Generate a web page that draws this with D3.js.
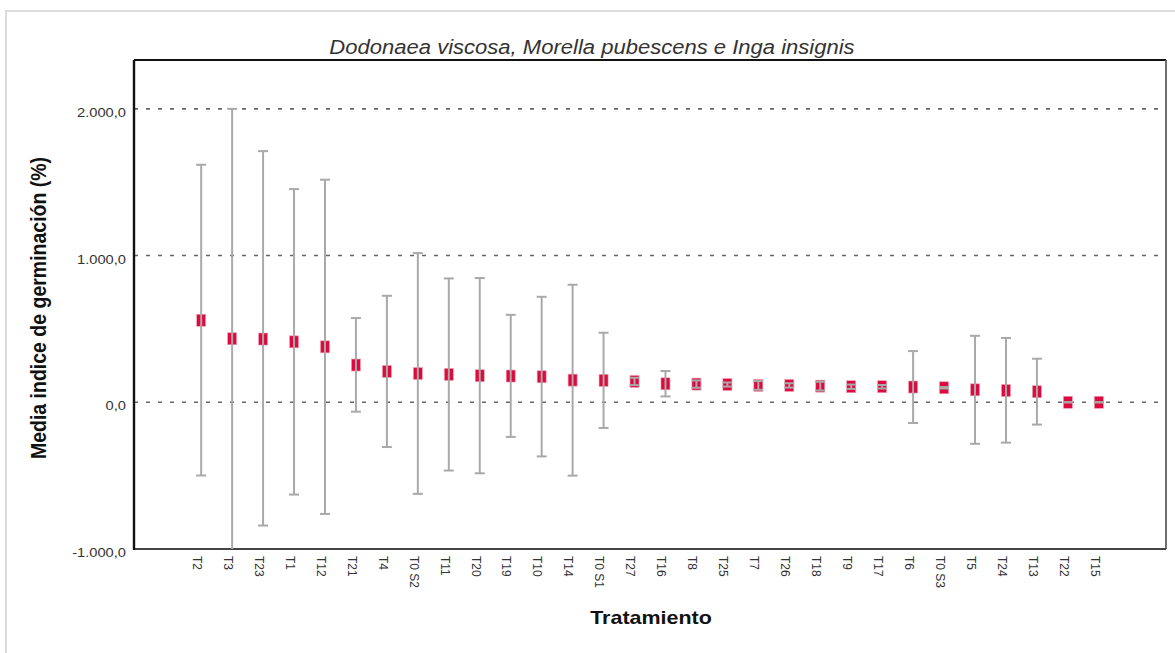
<!DOCTYPE html>
<html>
<head>
<meta charset="utf-8">
<script src="https://cdn.jsdelivr.net/npm/d3@7"></script>
<style>
  html, body { margin: 0; padding: 0; background: #fff; }
  svg { display: block; font-family: "Liberation Sans", Arial, sans-serif; }
</style>
</head>
<body>
<svg id="chart" width="1175" height="653"></svg>
<script>
// Treatments, ordered by decreasing mean germination index
const categories = ["T2","T3","T23","T1","T12","T21","T4","T0 S2","T11","T20","T19","T10","T14","T0 S1",
  "T27","T16","T8","T25","T7","T26","T18","T9","T17","T6","T0 S3","T5","T24","T13","T22","T15"];
// Mean germination index (%)
const means = [559, 433, 431, 412, 378, 254, 210, 196, 190, 181, 179, 174, 151, 149,
  142, 126, 124, 121, 115, 115, 110, 106, 106, 104, 99, 85, 80, 72, 0, 0];
// 95% confidence interval bounds
const lower = [-499, -1134, -840, -629, -761, -64, -305, -624, -465, -484, -236, -369, -500, -175,
  117, 40, 99, 107, 85, 100, 80, 91, 94, -141, 94, -283, -275, -152, 0, 0];
const upper = [1619, 2000, 1712, 1453, 1517, 574, 726, 1017, 844, 847, 596, 719, 801, 474,
  167, 213, 149, 135, 145, 130, 140, 121, 118, 349, 104, 453, 438, 297, 0, 0];
// Y axis
const yTicks = [-1000, 0, 1000, 2000];
const yTickLabels = ["-1.000,0", "0,0", "1.000,0", "2.000,0"];
const yDomain = [-1000, 2333];

const titleText = "Dodonaea viscosa, Morella pubescens e Inga insignis";
const xTitle = "Tratamiento";
const yTitle = "Media indice de germinación (%)";

const svg = d3.select("#chart");
const plot = { left: 134, right: 1166, top: 60, bottom: 549 };
const sx = 1.13; // horizontal stretch of the lettering

const x = d3.scalePoint().domain(categories).range([plot.left, plot.right]).padding(2.17);
const y = d3.scaleLinear().domain(yDomain).range([plot.bottom, plot.top]);

// outer frame
svg.append("rect").attr("x", 6).attr("y", 11).attr("width", 1200).attr("height", 700)
  .attr("fill", "#fff").attr("stroke", "#dcdcdc").attr("stroke-width", 2);

svg.append("defs").append("clipPath").attr("id", "plotclip")
  .append("rect").attr("x", plot.left).attr("y", plot.top)
  .attr("width", plot.right - plot.left).attr("height", plot.bottom - plot.top);

// dotted reference lines
svg.append("g").selectAll("line").data(yTicks.filter(v => v > yDomain[0])).join("line")
  .attr("x1", plot.left).attr("x2", plot.right)
  .attr("y1", d => y(d)).attr("y2", d => y(d))
  .attr("stroke", "#666").attr("stroke-width", 1.6).attr("stroke-dasharray", "4,8");

// frame of the plot area
svg.append("line").attr("x1", plot.left).attr("x2", plot.right).attr("y1", plot.top).attr("y2", plot.top)
  .attr("stroke", "#111").attr("stroke-width", 2);
svg.append("line").attr("x1", plot.right).attr("x2", plot.right).attr("y1", plot.top).attr("y2", plot.bottom)
  .attr("stroke", "#555").attr("stroke-width", 1.7);
svg.append("line").attr("x1", plot.left).attr("x2", plot.right).attr("y1", plot.bottom).attr("y2", plot.bottom)
  .attr("stroke", "#444").attr("stroke-width", 2);
svg.append("line").attr("x1", plot.left).attr("x2", plot.left).attr("y1", plot.top).attr("y2", plot.bottom + 1)
  .attr("stroke", "#111").attr("stroke-width", 2.4);

const rows = categories.map((c, i) => ({ c, m: means[i], lo: lower[i], hi: upper[i] }));

// mean markers
const marks = svg.append("g").attr("clip-path", "url(#plotclip)");
marks.selectAll("rect").data(rows).join("rect")
  .attr("x", d => x(d.c) - 4.5).attr("y", d => y(d.m) - 6)
  .attr("width", 9).attr("height", 12)
  .attr("fill", "#dc0a3e").attr("stroke", "#f2a0b2").attr("stroke-width", 0.6);

// error bars
const bars = svg.append("g").attr("clip-path", "url(#plotclip)")
  .attr("stroke", "#a9a9a9").attr("stroke-width", 2);
bars.selectAll("line.v").data(rows).join("line").attr("class", "v")
  .attr("x1", d => x(d.c)).attr("x2", d => x(d.c))
  .attr("y1", d => y(d.lo)).attr("y2", d => y(d.hi));
bars.selectAll("line.hi").data(rows).join("line").attr("class", "hi")
  .attr("x1", d => x(d.c) - 5).attr("x2", d => x(d.c) + 5)
  .attr("y1", d => y(d.hi)).attr("y2", d => y(d.hi));
bars.selectAll("line.lo").data(rows.filter(d => d.lo >= yDomain[0])).join("line").attr("class", "lo")
  .attr("x1", d => x(d.c) - 5).attr("x2", d => x(d.c) + 5)
  .attr("y1", d => y(d.lo)).attr("y2", d => y(d.lo));

// y tick labels
svg.append("g").selectAll("text").data(yTicks).join("text")
  .attr("transform", d => `translate(126,${y(d) + 8}) scale(${sx},1)`)
  .attr("text-anchor", "end").attr("font-size", 13).attr("fill", "#333")
  .text((d, i) => yTickLabels[i]);

// x tick labels, vertical
svg.append("g").selectAll("text").data(categories).join("text")
  .attr("transform", d => `translate(${x(d) - 3.5},556) scale(${sx},1) rotate(90)`)
  .attr("dy", "0.35em").attr("font-size", 12).attr("fill", "#333")
  .text(d => d);

// titles
svg.append("text").attr("transform", `translate(592,54) scale(${sx},1)`)
  .attr("text-anchor", "middle").attr("font-size", 19.5).attr("font-style", "italic").attr("fill", "#333")
  .text(titleText);
svg.append("text").attr("transform", `translate(651,624) scale(${sx},1)`)
  .attr("text-anchor", "middle").attr("font-size", 19).attr("font-weight", "bold").attr("fill", "#111")
  .text(xTitle);
svg.append("text").attr("transform", `translate(46,308) scale(${sx},1) rotate(-90)`)
  .attr("text-anchor", "middle").attr("font-size", 19.5).attr("font-weight", "bold").attr("fill", "#111")
  .text(yTitle);
</script>
</body>
</html>
